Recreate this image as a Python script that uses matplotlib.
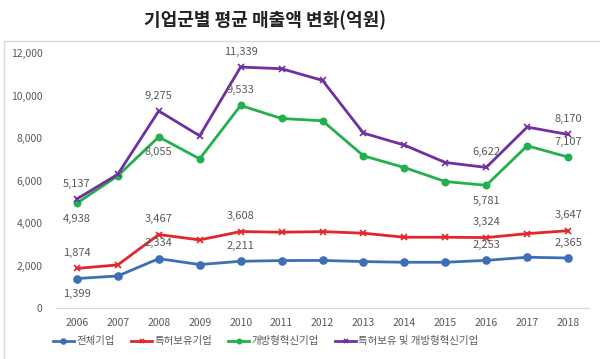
import matplotlib.pyplot as plt
from matplotlib.patches import Rectangle

plt.rcParams['font.family'] = ['Noto Sans CJK KR', 'DejaVu Sans']

years = [2006, 2007, 2008, 2009, 2010, 2011, 2012, 2013, 2014, 2015, 2016, 2017, 2018]
total = [1399, 1520, 2334, 2056, 2211, 2244, 2250, 2196, 2164, 2164, 2253, 2400, 2365]
patent = [1874, 2040, 3467, 3215, 3608, 3576, 3605, 3530, 3340, 3340, 3324, 3510, 3647]
open_inno = [4938, 6230, 8055, 7026, 9533, 8922, 8814, 7167, 6616, 5958, 5781, 7638, 7107]
both = [5137, 6300, 9275, 8108, 11339, 11261, 10711, 8235, 7671, 6852, 6622, 8518, 8170]

names = ["전체기업", "특허보유기업", "개방형혁신기업", "특허보유 및 개방형혁신기업"]
colors = ["#3d6fb8", "#e3262b", "#22b04e", "#7030a0"]
markers = ["o", "x", "o", "x"]
msizes = [5, 5, 4.5, 5]

# which years get a label, and whether above (+) or below (-)
label_years = [2006, 2008, 2010, 2016, 2018]
label_side = [
    [-1, 1, 1, 1, 1],
    [1, 1, 1, 1, 1],
    [-1, -1, 1, -1, 1],
    [1, 1, 1, 1, 1],
]

fig = plt.figure(figsize=(6, 3.59), dpi=100)
ax = fig.add_axes([0.094, 0.1412, 0.887, 0.7112])

series = [total, patent, open_inno, both]
x = list(range(len(years)))
for s, name, c, m, ms in zip(series, names, colors, markers, msizes):
    ax.plot(x, s, color=c, lw=2, marker=m, ms=ms, mew=1.2, label=name)

for s, sides in zip(series, label_side):
    for yr, side in zip(label_years, sides):
        i = years.index(yr)
        ax.annotate(f"{s[i]:,}", (i, s[i]), xytext=(0, 11 * side), textcoords="offset points",
                    ha="center", va="center", fontsize=8, color="#595959")

ax.set_xlim(-0.5, len(years) - 0.5)
ax.set_ylim(0, 12000)
ax.set_xticks(x)
ax.set_xticklabels([str(y) for y in years])
ax.set_yticks(range(0, 12001, 2000))
ax.set_yticklabels([f"{v:,}" for v in range(0, 12001, 2000)])
ax.tick_params(length=0, labelsize=7.5, labelcolor="#595959")
ax.tick_params(axis="y", pad=10)
ax.tick_params(axis="x", pad=7)
for side in ["top", "right", "left"]:
    ax.spines[side].set_visible(False)
ax.spines["bottom"].set_color("#d9d9d9")

fig.text(0.442, 0.944, "기업군별 평균 매출액 변화(억원)", ha="center", va="center",
         fontsize=13, fontweight="bold", color="#222222")

# outer frame
fig.patches.append(Rectangle((0.007, -0.1), 1.1, 0.985, transform=fig.transFigure,
                             fill=False, ec="#d9d9d9", lw=1))

fig.legend(loc="center", bbox_to_anchor=(0.443, 0.049), ncol=4, frameon=False,
           fontsize=7.5, labelcolor="#595959", handlelength=2.0, columnspacing=1.6,
           handletextpad=0.2, markerscale=0.7)

fig.savefig("out.png", dpi=100, facecolor="white")
